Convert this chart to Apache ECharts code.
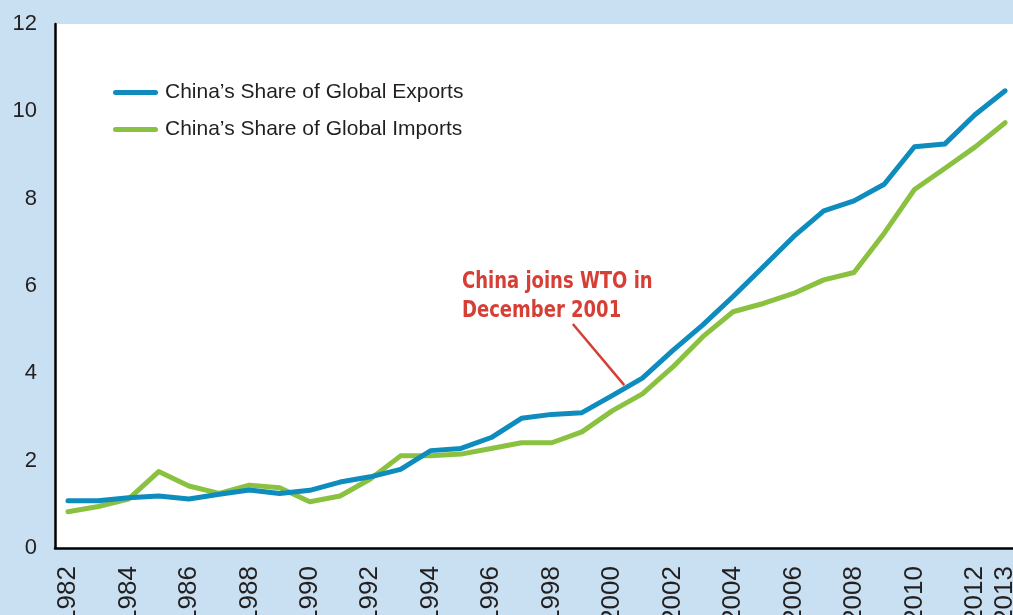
<!DOCTYPE html>
<html lang="en">
<head>
<meta charset="UTF-8">
<title>China share of global trade</title>
<script src="https://cdn.jsdelivr.net/npm/echarts@6/dist/echarts.min.js"></script>
<style>
  html, body { margin: 0; padding: 0; background: #c8e0f1; }
  #chart { width: 1013px; height: 615px; }
</style>
</head>
<body>
<div id="chart"></div>
<script>
// years 1982 - 2013
var years = [1982,1983,1984,1985,1986,1987,1988,1989,1990,1991,1992,1993,1994,1995,1996,1997,
             1998,1999,2000,2001,2002,2003,2004,2005,2006,2007,2008,2009,2010,2011,2012,2013];
// share of global exports (%)
var exportsShare = [1.08,1.08,1.15,1.19,1.12,1.23,1.33,1.25,1.32,1.51,1.63,1.80,2.23,2.28,2.53,2.97,
                    3.06,3.10,3.49,3.89,4.52,5.11,5.76,6.44,7.13,7.72,7.95,8.33,9.19,9.25,9.92,10.47];
// share of global imports (%)
var importsShare = [0.83,0.95,1.12,1.75,1.42,1.25,1.44,1.38,1.06,1.19,1.58,2.11,2.11,2.15,2.28,2.41,
                    2.41,2.66,3.14,3.53,4.14,4.84,5.41,5.60,5.83,6.14,6.31,7.21,8.21,8.69,9.18,9.74];
var xTickYears = [1982,1984,1986,1988,1990,1992,1994,1996,1998,2000,2002,2004,2006,2008,2010,2012,2013];
var seriesNames = ['China\u2019s Share of Global Exports', 'China\u2019s Share of Global Imports'];
var noteLines = ['China joins WTO in', 'December 2001'];
// pointer of the note, in data space [year, share]
var notePointer = [[1998.7, 5.13], [2000.4, 3.73]];

var blue = '#0e8cbd';
var green = '#8bc140';
var red = '#d53f36';

function pairs(vals) {
    return years.map(function (y, i) { return [y, vals[i]]; });
}

var chart = echarts.init(document.getElementById('chart'));
var lineIcon = 'path://M2.5,0 H42.5 A2.5,2.5 0 0 1 42.5,5 H2.5 A2.5,2.5 0 0 1 2.5,0 Z';

chart.setOption({
    backgroundColor: '#c8e0f1',
    animation: false,
    grid: {
        left: 55, right: 0, top: 24, bottom: 67,
        outerBoundsMode: 'none',
        containLabel: false,
        show: true, backgroundColor: '#ffffff', borderWidth: 0
    },
    legend: {
        orient: 'vertical',
        left: 113, top: 82,
        padding: 0,
        itemWidth: 45, itemHeight: 5, itemGap: 16,
        icon: lineIcon,
        textStyle: { fontSize: 21, color: '#231f20', fontFamily: 'Liberation Sans, Arial, sans-serif', padding: [0, 0, 0, 2] },
        data: seriesNames
    },
    xAxis: {
        type: 'value',
        min: 1981.57, max: 2013.26,
        splitLine: { show: false },
        axisLine: { show: true, onZero: false, lineStyle: { color: '#000', width: 2.5 } },
        axisTick: { show: false },
        axisLabel: {
            customValues: xTickYears,
            rotate: 90,
            margin: 18,
            fontSize: 26,
            color: '#231f20',
            fontFamily: 'Liberation Sans, Arial, sans-serif',
            formatter: function (v) { return String(v); }
        }
    },
    yAxis: {
        type: 'value',
        min: 0, max: 12, interval: 2,
        splitLine: { show: false },
        axisLine: { show: true, lineStyle: { color: '#000', width: 2.5 } },
        axisTick: { show: false },
        axisLabel: {
            margin: 18,
            fontSize: 22,
            color: '#231f20',
            fontFamily: 'Liberation Sans, Arial, sans-serif'
        }
    },
    series: [
        {
            name: seriesNames[0],
            type: 'line',
            data: pairs(exportsShare),
            symbol: 'none',
            color: blue,
            lineStyle: { width: 5, color: blue, cap: 'round', join: 'round' },
            z: 3
        },
        {
            name: seriesNames[1],
            type: 'line',
            data: pairs(importsShare),
            symbol: 'none',
            color: green,
            lineStyle: { width: 5, color: green, cap: 'round', join: 'round' },
            z: 2,
            markLine: {
                silent: true,
                symbol: ['none', 'none'],
                label: { show: false },
                lineStyle: { color: red, width: 2.5, type: 'solid' },
                data: [[{ coord: notePointer[0] }, { coord: notePointer[1] }]]
            }
        }
    ],
    graphic: [{
        type: 'text',
        x: 462, y: 268,
        scaleX: 0.87,
        style: {
            text: noteLines.join('\n'),
            fill: red,
            font: 'bold 23px "DejaVu Sans Condensed", "DejaVu Sans", sans-serif',
            lineHeight: 29
        }
    }]
});
</script>
</body>
</html>
